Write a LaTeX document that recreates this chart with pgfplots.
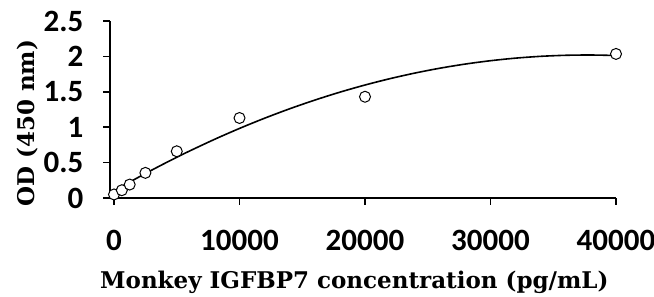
\documentclass[border=0pt]{standalone}
\usepackage{fontspec}
\setmainfont{Liberation Serif}
\newfontfamily\calib{Carlito}
\newfontfamily\titlefont{DejaVu Serif}
\usepackage{pgfplots}
\pgfplotsset{compat=1.18}
\begin{document}
\begin{tikzpicture}
\useasboundingbox (-110bp,-99bp) rectangle (544bp,198bp);
\begin{axis}[
  at={(0,0)}, anchor=south west,
  scale only axis, width=506bp, height=177bp,
  xmin=-320, xmax=40000, ymin=0, ymax=2.5,
  axis x line=bottom, axis y line=left,
  axis line style={-, line width=1.6bp, black},
  tick align=outside,
  major tick style={line width=1.6bp, black},
  major tick length=6.5bp,
  xtick={0,10000,20000,30000,40000},
  ytick={0,0.5,1,1.5,2,2.5},
  scaled x ticks=false,
  /pgf/number format/1000 sep={},
  /pgf/number format/assume math mode=true,
  ticklabel style={font=\calib\bfseries\fontsize{31bp}{36bp}\selectfont, inner sep=0pt},
  xticklabel style={anchor=north, yshift=-25bp},
  yticklabel style={anchor=east, xshift=-20bp},
  xlabel={Monkey IGFBP7 concentration (pg/mL)},
  ylabel={OD (450 nm)},
  label style={font=\titlefont\bfseries\fontsize{23bp}{27bp}\selectfont, inner sep=0pt},
  x label style={at={([yshift=-90bp]axis description cs:0.4829,0)}, anchor=base},
  y label style={at={([xshift=-75bp]axis description cs:0,0.4215)}, anchor=base},
  clip=false,
]
\addplot[black, line width=1.6bp, smooth, no marks] coordinates {
(0,0.100) (1000,0.2003) (2000,0.2981) (3000,0.3931) (4000,0.4854) (5000,0.5751)
(6000,0.6620) (8000,0.8278) (10000,0.9828) (12000,1.1270) (14000,1.2604)
(16000,1.3830) (18000,1.4949) (20000,1.5959) (22000,1.6861) (24000,1.7656)
(26000,1.8343) (28000,1.8921) (30000,1.9392) (32000,1.9755) (34000,2.0010)
(36000,2.0157) (38000,2.0196) (40000,2.0127)
};
\addplot[only marks, mark=*, mark size=5.5bp, mark options={draw=black, fill=white, line width=1bp}] coordinates {
(0,0.05) (625,0.11) (1250,0.19) (2500,0.355) (5000,0.66) (10000,1.13) (20000,1.43) (40000,2.035)
};
\end{axis}
\end{tikzpicture}
\end{document}
